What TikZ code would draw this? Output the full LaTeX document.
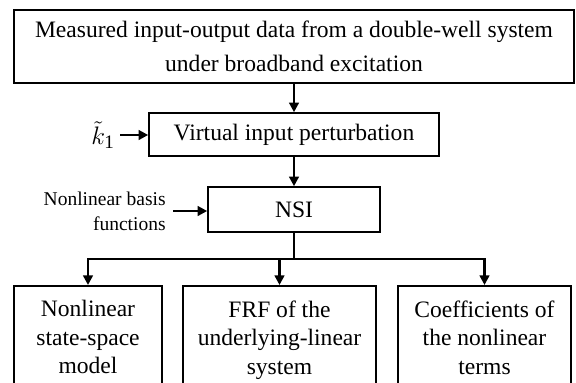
\documentclass[tikz,border=0pt]{standalone}
\usepackage{fontspec}
\setmainfont{Liberation Serif}
\usetikzlibrary{arrows.meta,positioning}

\begin{document}
\begin{tikzpicture}[
    box/.style={draw, line width=0.9pt, align=center, inner sep=0pt},
    outbox/.style={box, anchor=north, inner ysep=8.4pt,
      font=\fontsize{13.4}{16.2}\selectfont},
    arr/.style={line width=1.4pt, -{Triangle[length=5.5pt,width=5.5pt]}},
    link/.style={line width=1.4pt},
    every node/.style={font=\fontsize{13.4}{19}\selectfont}]
  \useasboundingbox (0,0) rectangle (11.52,7.64);
  \node[box, minimum width=11.2cm, minimum height=1.46cm] (data) at (5.88,6.71)
    {Measured input-output data from a double-well system\\under broadband excitation};
  \node[box, minimum width=5.8cm, minimum height=0.86cm] (virt) at (5.88,4.95)
    {Virtual input perturbation};
  \node[box, minimum width=3.44cm, minimum height=0.9cm] (nsi) at (5.88,3.45) {NSI};
  \node[anchor=east, inner xsep=2.8pt, font=\fontsize{15.5}{18}\selectfont]
    (kin) at (2.4,4.94) {$\tilde{k}_{\mathrm{1}}$};
  \node[anchor=east, inner xsep=4pt, align=right,
    font=\fontsize{11.1}{14.2}\selectfont] (basis) at (3.46,3.42)
    {Nonlinear basis\\functions};
  % results, cut off at the lower edge
  \node[outbox, minimum width=2.96cm] (model) at (1.76,1.94)
    {Nonlinear\\state-space\\model};
  \node[outbox, minimum width=3.86cm] (frf) at (5.59,1.94)
    {FRF of the\\underlying-linear\\system};
  \node[outbox, minimum width=3.46cm] (coef) at (9.69,1.94)
    {Coefficients of\\the nonlinear\\terms};
  \coordinate (bus) at (5.88,2.46);
  \draw[arr] (data) -- (virt);
  \draw[arr] (virt) -- (nsi);
  \draw[arr] (kin) -- (kin -| virt.west);
  \draw[arr] (basis) -- (basis -| nsi.west);
  \draw[link] (nsi) -- (bus);
  \draw[arr] (bus) -- (bus -| model.north) -- (model.north);
  \draw[arr] (bus) -- (bus -| coef.north) -- (coef.north);
  \draw[arr] (bus -| frf.north) -- (frf.north);
\end{tikzpicture}
\end{document}
